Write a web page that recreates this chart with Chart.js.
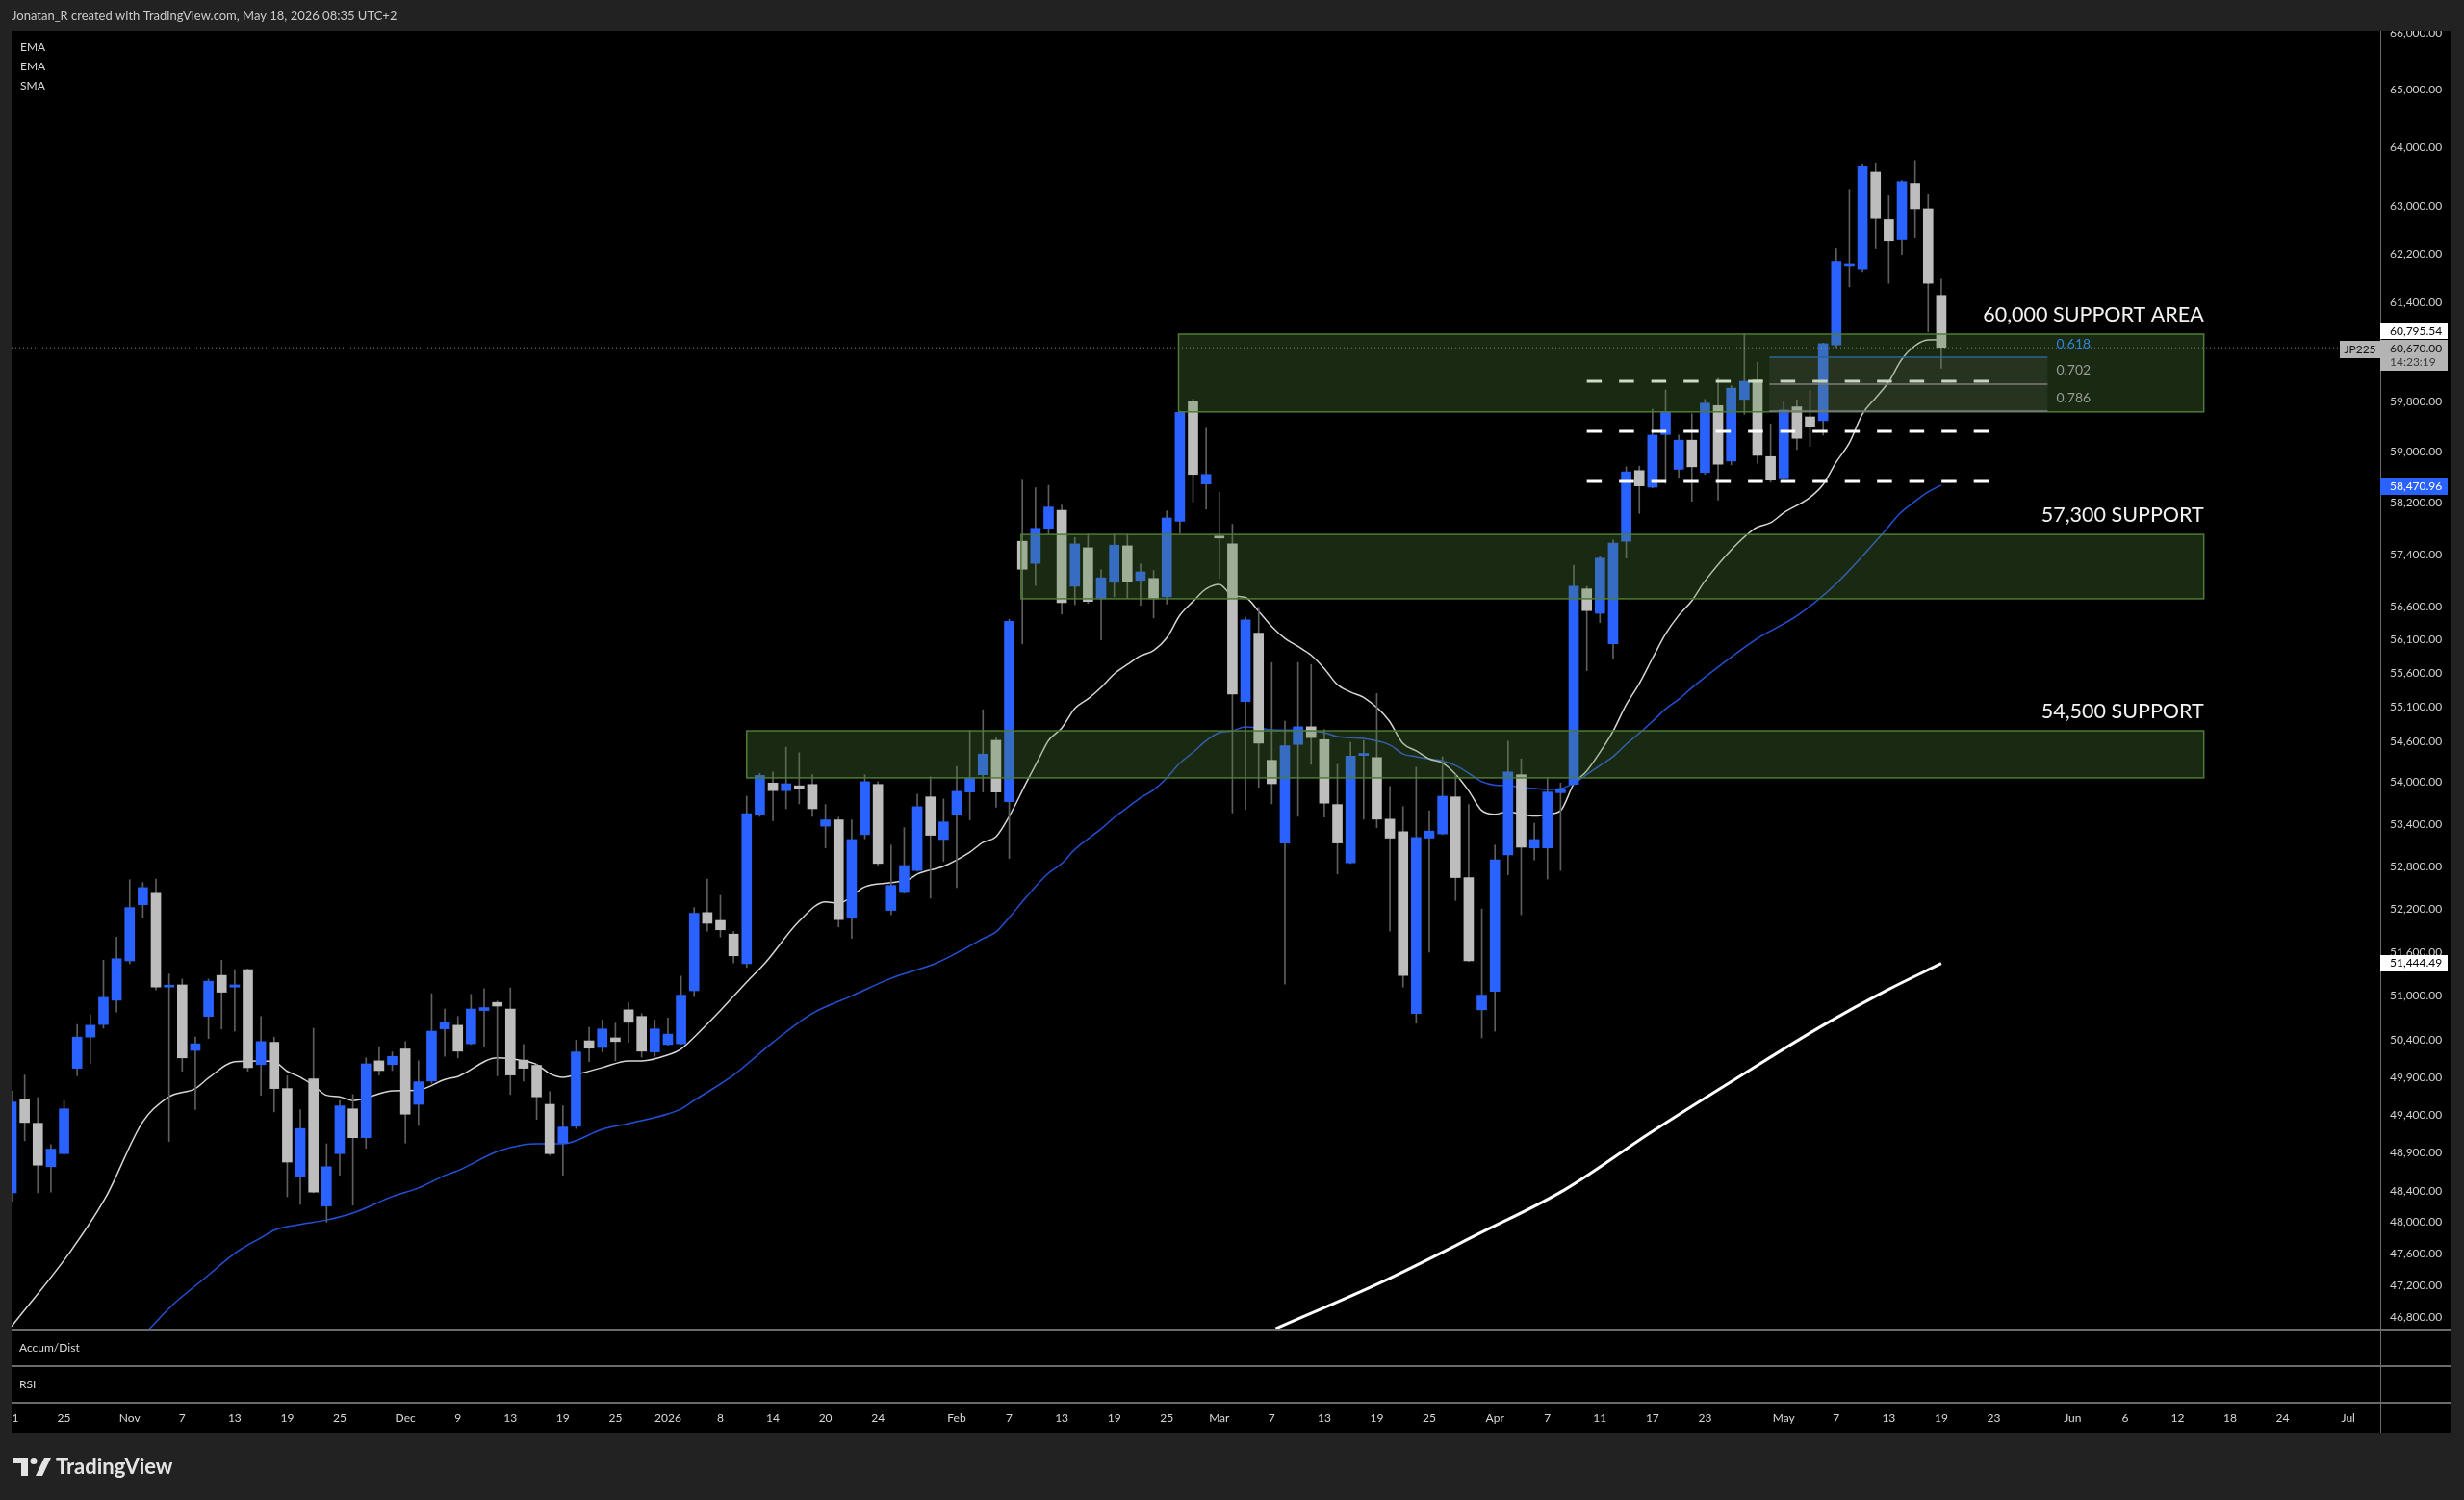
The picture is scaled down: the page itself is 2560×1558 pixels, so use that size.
<!DOCTYPE html>
<html>
<head>
<meta charset="utf-8">
<title>JP225 daily</title>
<script src="https://cdn.jsdelivr.net/npm/chart.js@4.4.1/dist/chart.umd.min.js"></script>
<style>
  html, body { margin: 0; padding: 0; background: #222222; overflow: hidden; }
  canvas { display: block; }
</style>
</head>
<body>
<canvas id="chart" width="2560" height="1558"></canvas>
<script>
// JP225 daily candles (index 0 = first bar on the left)
const opens = [
  48380, 49600, 49290, 48720, 48890, 50020, 50440, 50610, 50940, 51480,
  52260, 52420, 51120, 51150, 50260, 50720, 51280, 51120, 51360, 50070,
  50370, 49750, 48590, 49880, 48210, 48890, 49480, 49100, 50120, 50070,
  50280, 49540, 49850, 50550, 50600, 50350, 50800, 50910, 50820, 50130,
  50060, 49540, 49030, 49250, 50390, 50300, 50430, 50810, 50720, 50240,
  50340, 50350, 51070, 52150, 52040, 51850, 51440, 53540, 53990, 53880,
  53950, 53970, 53370, 53460, 52070, 53250, 53970, 52180, 52430, 52740,
  53790, 53180, 53540, 53860, 54110, 54610, 53720, 57600, 57260, 57800,
  58080, 56910, 57500, 56720, 56970, 57530, 57000, 57030, 56750, 57910,
  59800, 58490, 57680, 57560, 55180, 56200, 54320, 53130, 54550, 54810,
  54620, 53680, 52850, 54390, 54360, 53470, 53290, 50760, 53200, 53260,
  53790, 52640, 50810, 51060, 52960, 54110, 53060, 53060, 53850, 53970,
  56870, 56500, 56040, 57600, 58700, 58440, 59270, 58720, 59180, 58670,
  59730, 58850, 59830, 60140, 58920, 58570, 59710, 59550, 59490, 60710,
  62010, 61960, 63580, 62790, 62450, 63390, 62960, 61520
];
const highs = [
  49720, 49930, 49630, 49010, 49590, 50610, 50740, 51490, 51810, 52610,
  52570, 52620, 51300, 51230, 50440, 51230, 51490, 51360, 51370, 50720,
  50440, 49920, 49470, 50560, 49020, 49590, 49670, 50160, 50310, 50240,
  50380, 50120, 51030, 50820, 50720, 51020, 51100, 50930, 51110, 50340,
  50070, 49710, 49520, 50400, 50570, 50670, 50630, 50910, 50760, 50670,
  50700, 51270, 52220, 52620, 52390, 51890, 53800, 54130, 54150, 54510,
  54430, 54110, 53680, 53500, 53460, 54110, 54010, 53100, 53350, 53830,
  54080, 53760, 54230, 54760, 55060, 54650, 56410, 58550, 58430, 58470,
  58160, 57660, 57710, 57160, 57710, 57710, 57250, 57150, 58070, 59640,
  59840, 59370, 58360, 57860, 56440, 56590, 55760, 54890, 55760, 55730,
  54770, 54260, 54580, 54610, 55300, 53940, 53650, 54220, 53590, 54370,
  54110, 53680, 52200, 53100, 54600, 54340, 53410, 54070, 53990, 57230,
  56910, 57370, 57620, 58760, 58770, 59670, 59980, 59260, 59600, 59830,
  60170, 60050, 60890, 60430, 59440, 59800, 59820, 59970, 60740, 62290,
  63290, 63720, 63740, 63180, 63440, 63780, 63210, 61790
];
const lows = [
  48270, 49060, 48380, 48390, 48880, 49920, 50080, 50560, 50780, 51440,
  52080, 51080, 49050, 49980, 49470, 50420, 50550, 50520, 49980, 49660,
  49440, 48330, 48230, 48380, 48000, 48610, 48220, 48960, 49930, 49990,
  49030, 49260, 49820, 50180, 50160, 50340, 50310, 49920, 49670, 49850,
  49340, 48870, 48610, 49220, 50110, 50240, 50120, 50370, 50170, 50180,
  50330, 50340, 50990, 51890, 51810, 51450, 51390, 53510, 53450, 53620,
  53690, 53510, 53060, 51950, 51790, 53190, 52810, 52120, 52420, 52730,
  52350, 52870, 52500, 53460, 53860, 53640, 52910, 56040, 56920, 57710,
  56490, 56630, 56650, 56100, 56750, 56730, 56620, 56430, 56640, 57720,
  58210, 58100, 57030, 53560, 53610, 53930, 53690, 51160, 53510, 54260,
  53500, 52690, 52840, 53470, 53350, 51890, 51120, 50630, 51600, 53250,
  52320, 51470, 50430, 50520, 52680, 52120, 52890, 52620, 52740, 53960,
  55640, 56360, 55810, 57340, 58030, 58430, 58500, 58580, 58220, 58640,
  58240, 58790, 59590, 58820, 58520, 58560, 59030, 59080, 59260, 60670,
  61660, 61900, 62290, 61720, 62190, 62480, 60920, 60330
];
const closes = [
  49570, 49300, 48740, 48950, 49480, 50440, 50600, 50980, 51510, 52220,
  52500, 51120, 51140, 50160, 50350, 51200, 51050, 51150, 50030, 50380,
  49750, 48780, 49220, 48390, 48720, 49520, 49100, 50080, 49990, 50180,
  49410, 49840, 50520, 50640, 50250, 50820, 50840, 50860, 49930, 50020,
  49640, 48890, 49240, 50240, 50290, 50550, 50380, 50640, 50250, 50550,
  50480, 51010, 52140, 52000, 51910, 51550, 53550, 54100, 53880, 53980,
  53910, 53620, 53460, 52050, 53180, 54010, 52840, 52530, 52810, 53650,
  53240, 53430, 53870, 54060, 54410, 53860, 56380, 57170, 57800, 58130,
  56660, 57560, 56680, 57040, 57540, 56980, 57130, 56720, 57960, 59620,
  58640, 58640, 57650, 55290, 56400, 54570, 53980, 54530, 54810, 54650,
  53700, 53130, 54380, 54420, 53470, 53200, 51280, 53210, 53300, 53800,
  52640, 51480, 51010, 52890, 54150, 53070, 53180, 53860, 53900, 56910,
  56540, 57340, 57570, 58680, 58460, 59260, 59630, 59180, 58760, 59770,
  58800, 60010, 60120, 58940, 58550, 59660, 59210, 59400, 60730, 62080,
  62040, 63690, 62810, 62430, 63420, 62960, 61720, 60670
];

// moving averages (bar index / price)
const ema20Idx = [0, 4.5, 7.2, 10, 12, 14, 15, 17, 19, 20, 21, 22, 23, 24, 25, 26, 29, 31, 33, 34, 37, 39, 40, 41, 42, 43.3, 45, 47, 48, 50, 51, 52, 54, 56, 57.4, 60, 62, 63, 65, 67, 68.4, 69, 71, 73, 74, 75, 76, 77.3, 78.3, 79, 80, 81, 82, 83, 84, 85, 86, 87, 88, 89, 90, 91, 92, 93, 94, 95, 96, 97, 98, 99, 100, 101, 102, 103, 104.9, 106, 107, 108, 109, 110, 111, 112, 113, 114, 115, 116, 117, 118, 119, 120, 121, 122, 123, 124, 125, 126, 127, 128, 129, 132.8, 134, 135, 137, 138, 139, 140, 141, 142, 143, 144, 145, 146, 147];
const ema20Val = [46680, 47630, 48330, 49310, 49640, 49750, 49890, 50110, 50120, 50110, 49980, 49900, 49790, 49660, 49640, 49590, 49720, 49730, 49870, 49910, 50160, 50120, 50070, 49950, 49900, 49950, 50030, 50120, 50120, 50200, 50280, 50440, 50800, 51190, 51450, 52030, 52300, 52280, 52510, 52570, 52620, 52690, 52800, 53000, 53140, 53220, 53510, 53995, 54358, 54610, 54790, 55080, 55220, 55390, 55590, 55730, 55860, 55940, 56130, 56470, 56680, 56870, 56940, 56770, 56740, 56530, 56300, 56120, 56000, 55870, 55670, 55430, 55320, 55240, 54907, 54564, 54456, 54339, 54281, 54116, 53878, 53593, 53540, 53579, 53540, 53515, 53540, 53593, 53974, 54165, 54435, 54746, 55134, 55449, 55823, 56190, 56469, 56690, 56992, 57797, 57886, 58040, 58281, 58481, 58834, 59138, 59597, 59854, 60113, 60478, 60697, 60791, 60795];
const ema50Idx = [10.5, 12.3, 14.7, 17.2, 19.1, 20, 22, 24, 26, 29, 31, 33, 34, 37, 39, 40, 42, 45, 47, 50, 51, 52, 55, 58, 61, 64, 67, 70.5, 72.4, 74, 75, 76, 77.3, 78.9, 80, 81, 83, 84, 85, 86, 87, 88, 89, 90, 91, 92, 93, 94, 95, 96, 97, 98, 99, 100, 101, 102, 103, 105, 106, 107, 108, 109, 110, 111, 112, 113, 114, 115, 116, 117, 118, 119, 120, 121, 122, 123, 124, 125, 126, 127, 128, 129, 133, 136, 139, 142.8, 143.8, 145, 146, 147];
const ema50Val = [46650, 46955, 47285, 47626, 47812, 47899, 47974, 48030, 48119, 48331, 48444, 48606, 48669, 48919, 49008, 49020, 49020, 49210, 49287, 49414, 49478, 49592, 49930, 50370, 50760, 51000, 51240, 51454, 51627, 51787, 51881, 52081, 52365, 52689, 52839, 53039, 53331, 53496, 53637, 53778, 53892, 54065, 54279, 54435, 54606, 54723, 54751, 54808, 54791, 54766, 54762, 54762, 54751, 54723, 54665, 54649, 54637, 54541, 54412, 54372, 54339, 54313, 54243, 54133, 54009, 53960, 53953, 53928, 53910, 53897, 53910, 53986, 54114, 54243, 54372, 54553, 54716, 54889, 55071, 55214, 55384, 55541, 56120, 56460, 56950, 57782, 58020, 58219, 58366, 58471];
const sma200Idx = [96.3, 104.5, 111.7, 118.3, 124.9, 132, 138, 142.8, 147];
const sma200Val = [46653, 47248, 47847, 48419, 49172, 49952, 50600, 51072, 51444];

// axis labels
const priceTicks = [66000, 65000, 64000, 63000, 62200, 61400, 59800, 59000, 58200, 57400, 56600, 56100, 55600, 55100, 54600, 54000, 53400, 52800, 52200, 51600, 51000, 50400, 49900, 49400, 48900, 48400, 48000, 47600, 47200, 46800];
const timeLabels = ['1', '25', 'Nov', '7', '13', '19', '25', 'Dec', '9', '13', '19', '25', '2026', '8', '14', '20', '24', 'Feb', '7', '13', '19', '25', 'Mar', '7', '13', '19', '25', 'Apr', '7', '11', '17', '23', 'May', '7', '13', '19', '23', 'Jun', '6', '12', '18', '24', 'Jul'];
const timeIdx = [0, 4, 9, 13, 17, 21, 25, 30, 34, 38, 42, 46, 50, 54, 58, 62, 66, 72, 76, 80, 84, 88, 92, 96, 100, 104, 108, 113, 117, 121, 125, 129, 135, 139, 143, 147, 151, 157, 161, 165, 169, 173, 178];

// drawings on the chart
const zoneLabels = ['60,000 SUPPORT AREA', '57,300 SUPPORT', '54,500 SUPPORT'];
const zoneHigh = [60885, 57705, 54750];
const zoneLow = [59630, 56720, 54065];
const zoneFrom = [88.9, 76.9, 56.0];
const zoneTo = 167;
const fibNames = ['0.618', '0.702', '0.786'];
const fibPrices = [60509, 60075, 59642];
const fibFrom = 133.9, fibTo = 155.1;
const dashPrices = [60120, 59320, 58530];
const dashFrom = 120.0, dashTo = 150.7;
const lastPrice = 60670;
const ema20Last = 60795.54, ema50Last = 58470.96, sma200Last = 51444.49;

const UP = '#2962ff', DOWN = '#bdbdbd', WICK = '#5e5e5e';
const FONT = 'Lato, "Liberation Sans", sans-serif';

const fmt = v => v.toLocaleString('en-US', { minimumFractionDigits: 2, maximumFractionDigits: 2 });
const pts = (xs, ys) => xs.map((x, i) => ({ x: x, y: ys[i] }));

const wicks = opens.map((o, i) => ({ x: i, y: [lows[i], highs[i]] }));
const bodies = opens.map((o, i) => ({ x: i, y: [o, closes[i]] }));
const bodyColors = opens.map((o, i) => closes[i] >= o ? UP : DOWN);

function priceBox(c, y0, h, bg, lines) {
  c.fillStyle = bg;
  c.fillRect(2473, y0, 70, h);
  c.textAlign = 'left';
  c.textBaseline = 'middle';
  lines.forEach(l => {
    c.fillStyle = l.color;
    c.fillText(l.text, 2483, y0 + l.dy);
  });
}

const overlay = {
  id: 'overlay',
  beforeDraw(chart) {
    const c = chart.ctx;
    c.save();
    c.fillStyle = '#222222';
    c.fillRect(0, 0, chart.width, chart.height);
    c.fillStyle = '#000000';
    c.fillRect(12, 32, 2535, 1456);
    c.restore();
  },
  afterDatasetsDraw(chart) {
    const c = chart.ctx, xs = chart.scales.x, ys = chart.scales.y;
    const area = chart.chartArea;
    c.save();

    // current price dotted line
    const yl = ys.getPixelForValue(lastPrice);
    c.strokeStyle = 'rgba(190,190,190,0.7)';
    c.lineWidth = 1;
    c.setLineDash([1, 3]);
    c.beginPath(); c.moveTo(area.left, yl + 0.5); c.lineTo(2431, yl + 0.5); c.stroke();

    // white dashed levels
    c.strokeStyle = '#ffffff';
    c.lineWidth = 3;
    c.setLineDash([15.5, 18]);
    dashPrices.forEach(p => {
      const y = Math.round(ys.getPixelForValue(p));
      c.beginPath();
      c.moveTo(xs.getPixelForValue(dashFrom), y);
      c.lineTo(xs.getPixelForValue(dashTo), y);
      c.stroke();
    });
    c.setLineDash([]);

    // support zones
    const xr = xs.getPixelForValue(zoneTo);
    zoneLabels.forEach((name, i) => {
      const x1 = xs.getPixelForValue(zoneFrom[i]);
      const y1 = ys.getPixelForValue(zoneHigh[i]);
      const y2 = ys.getPixelForValue(zoneLow[i]);
      c.fillStyle = 'rgba(85,135,55,0.30)';
      c.fillRect(x1, y1, xr - x1, y2 - y1);
      c.strokeStyle = '#4f7b36';
      c.lineWidth = 1.5;
      c.strokeRect(x1, y1, xr - x1, y2 - y1);
      c.fillStyle = '#f2f2f2';
      c.font = '21.5px ' + FONT;
      c.textAlign = 'right';
      c.textBaseline = 'middle';
      c.fillText(name, xr, y1 - 20);
    });

    // fib retracement block
    const fx1 = xs.getPixelForValue(fibFrom), fx2 = xs.getPixelForValue(fibTo);
    const fy = fibPrices.map(p => ys.getPixelForValue(p));
    c.fillStyle = 'rgba(150,150,150,0.10)';
    c.fillRect(fx1, fy[0], fx2 - fx1, fy[2] - fy[0]);
    c.lineWidth = 1.5;
    fy.forEach((y, i) => {
      c.strokeStyle = i === 0 ? '#2a6496' : '#7d7d7d';
      c.beginPath(); c.moveTo(fx1, y); c.lineTo(fx2, y); c.stroke();
      c.fillStyle = i === 0 ? '#2f86d6' : '#9a9a9a';
      c.font = '14px ' + FONT;
      c.textAlign = 'left';
      c.textBaseline = 'middle';
      c.fillText(fibNames[i], fx2 + 9, y - 14);
    });
    c.restore();
  },
  afterDraw(chart) {
    const c = chart.ctx, xs = chart.scales.x, ys = chart.scales.y;
    c.save();

    // header band
    c.fillStyle = '#222222';
    c.fillRect(0, 0, chart.width, 32);
    c.fillStyle = '#c9c9c9';
    c.font = '13px ' + FONT;
    c.textAlign = 'left';
    c.textBaseline = 'middle';
    c.fillText('Jonatan_R created with TradingView.com, May 18, 2026 08:35 UTC+2', 12, 17);

    // indicator legend
    c.fillStyle = '#d8d8d8';
    c.font = '12px ' + FONT;
    ['EMA', 'EMA', 'SMA'].forEach((t, i) => c.fillText(t, 21, 49 + i * 20));

    // pane separators and price-scale line
    c.strokeStyle = '#6a6a6a';
    c.lineWidth = 2;
    [1381, 1419, 1457].forEach(y => {
      c.beginPath(); c.moveTo(12, y); c.lineTo(2547, y); c.stroke();
    });
    c.lineWidth = 1;
    c.beginPath(); c.moveTo(2473.5, 32); c.lineTo(2473.5, 1488); c.stroke();

    c.fillStyle = '#d8d8d8';
    c.font = '12px ' + FONT;
    c.fillText('Accum/Dist', 20, 1400);
    c.fillText('RSI', 20, 1438);

    // time scale labels, placed through the x scale
    c.textAlign = 'center';
    timeLabels.forEach((t, i) => {
      c.fillText(t, Math.max(xs.getPixelForValue(timeIdx[i]), 16), 1473);
    });

    // price-scale labels
    c.font = '12px ' + FONT;
    const yl = Math.round(ys.getPixelForValue(lastPrice));
    priceBox(c, yl - 25, 16, '#ffffff', [{ text: fmt(ema20Last), color: '#000000', dy: 8 }]);
    priceBox(c, yl - 8, 32, '#b4b4b4', [
      { text: fmt(lastPrice), color: '#111111', dy: 9 },
      { text: '14:23:19', color: '#3c3c3c', dy: 23 }
    ]);
    c.fillStyle = '#b4b4b4';
    c.fillRect(2431, yl - 7, 42, 18);
    c.fillStyle = '#111111';
    c.textAlign = 'center';
    c.fillText('JP225', 2452, yl + 2);
    const y50 = Math.round(ys.getPixelForValue(ema50Last));
    priceBox(c, y50 - 8, 18, '#2962ff', [{ text: fmt(ema50Last), color: '#ffffff', dy: 9 }]);
    const y200 = Math.round(ys.getPixelForValue(sma200Last));
    priceBox(c, y200 - 9, 17, '#ffffff', [{ text: fmt(sma200Last), color: '#000000', dy: 8.5 }]);

    // TradingView logo
    c.fillStyle = '#e4e4e4';
    c.fillRect(14, 1514, 15, 6);
    c.fillRect(22, 1514, 7, 19);
    c.beginPath(); c.arc(35, 1517.5, 3.5, 0, Math.PI * 2); c.fill();
    c.beginPath();
    c.moveTo(37, 1533); c.lineTo(44, 1533); c.lineTo(53, 1514); c.lineTo(46, 1514);
    c.closePath(); c.fill();
    c.font = 'bold 22px ' + FONT;
    c.textAlign = 'left';
    c.textBaseline = 'middle';
    c.fillText('TradingView', 58, 1524);
    c.restore();
  }
};

new Chart(document.getElementById('chart'), {
  type: 'bar',
  data: {
    datasets: [
      { type: 'line', data: pts(sma200Idx, sma200Val), borderColor: '#ffffff', borderWidth: 3, pointRadius: 0, cubicInterpolationMode: 'monotone', order: 5 },
      { type: 'line', data: pts(ema50Idx, ema50Val), borderColor: '#2450d8', borderWidth: 1.5, pointRadius: 0, cubicInterpolationMode: 'monotone', order: 4 },
      { type: 'line', data: pts(ema20Idx, ema20Val), borderColor: '#d6d6d6', borderWidth: 1.5, pointRadius: 0, cubicInterpolationMode: 'monotone', order: 3 },
      { data: wicks, backgroundColor: WICK, barThickness: 1, grouped: false, order: 2 },
      { data: bodies, backgroundColor: bodyColors, barThickness: 10, minBarLength: 2, grouped: false, order: 1 }
    ]
  },
  options: {
    responsive: false,
    devicePixelRatio: 1,
    animation: false,
    events: [],
    layout: { padding: { left: 12, top: 32, right: 13, bottom: 178 } },
    plugins: { legend: { display: false }, tooltip: { enabled: false } },
    scales: {
      x: {
        type: 'linear',
        display: false,
        min: 0,
        max: 180.44,
        offset: false
      },
      y: {
        type: 'logarithmic',
        position: 'right',
        min: 46653,
        max: 66034,
        grid: { display: false, drawTicks: false },
        border: { display: false },
        afterFit: s => { s.width = 74; },
        afterBuildTicks: s => { s.ticks = priceTicks.map(v => ({ value: v })); },
        ticks: {
          padding: 10,
          color: '#cfcfcf',
          font: { family: FONT, size: 12 },
          callback: v => fmt(v)
        }
      }
    }
  },
  plugins: [overlay]
});
</script>
</body>
</html>
